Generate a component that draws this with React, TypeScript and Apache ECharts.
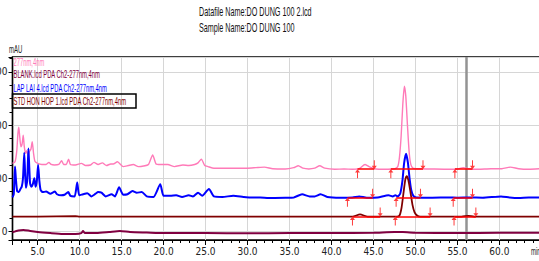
import React, { useEffect, useRef } from "react";
import * as echarts from "echarts";

// ---- texts ----
const titleLines = ["Datafile Name:DO DUNG 100 2.lcd", "Sample Name:DO DUNG 100"];
const legendLabels = [
  "277nm,4nm",
  "BLANK.lcd PDA Ch2-277nm,4nm",
  "LAP LAI 4.lcd PDA Ch2-277nm,4nm",
  "STD HON HOP 1.lcd PDA Ch2-277nm,4nm",
];
const yAxisUnit = "mAU";
const xAxisUnit = "min";

// ---- traces: [time (min), signal (mAU)] ----
const sampleTrace: [number, number][] = [
  [2.0, 128], [2.3, 131], [2.5, 150], [2.65, 185], [2.75, 196], [2.85, 180], [3.0, 159], [3.15, 165],
  [3.28, 181], [3.4, 160], [3.56, 147], [3.7, 152], [3.85, 142], [4.0, 150], [4.2, 155], [4.35, 169],
  [4.5, 148], [4.67, 132], [5.0, 128], [5.5, 126], [6.0, 126], [6.34, 130], [6.6, 126], [7.0, 125],
  [7.5, 126], [7.85, 133], [8.1, 126], [8.4, 126], [8.68, 136], [8.9, 126], [9.5, 125], [10.2, 128],
  [10.7, 124], [11.3, 125], [11.7, 130], [12.2, 126], [12.7, 129], [13.2, 124], [13.7, 127], [14.0, 127],
  [14.5, 131], [15.2, 122], [15.8, 124], [16.4, 126], [17.0, 122], [17.6, 123], [18.2, 126], [18.7, 144],
  [19.1, 127], [19.6, 126], [20.5, 126], [21.3, 122], [22.3, 125], [23.0, 124], [23.7, 126], [24.1, 129],
  [24.5, 136], [24.9, 124], [25.3, 122], [26.0, 119], [27.0, 119], [28.0, 119], [29.0, 119], [30.0, 119],
  [31.0, 120], [32.0, 121], [33.0, 118], [34.5, 117.5], [35.5, 120], [36.05, 123.7], [36.6, 119],
  [37.3, 117.5], [38.0, 119], [38.6, 123.5], [39.2, 119], [40.4, 117], [41.5, 117.5], [42.5, 117],
  [43.3, 118], [44.0, 126], [44.6, 121], [45.3, 117.5], [46.3, 117], [47.3, 117.5], [47.6, 118],
  [47.9, 122], [48.1, 140], [48.3, 180], [48.5, 240], [48.68, 273], [48.85, 255], [49.05, 200],
  [49.25, 150], [49.45, 126], [49.7, 119], [50.5, 118], [52.0, 117.5], [54.0, 117], [55.0, 117.5],
  [55.7, 120], [56.3, 118], [57.5, 117], [59.0, 118], [60.3, 118], [61.3, 121], [62.3, 118],
  [63.5, 117], [64.9, 118],
];

const repeatTrace: [number, number][] = [
  [2.0, 64], [2.15, 70], [2.3, 122], [2.4, 100], [2.55, 76], [2.75, 74], [2.95, 80], [3.1, 84],
  [3.25, 100], [3.4, 148], [3.5, 110], [3.6, 82], [3.75, 95], [3.9, 156], [4.0, 120], [4.1, 90],
  [4.25, 84], [4.4, 88], [4.6, 100], [4.75, 84], [4.9, 95], [5.05, 125], [5.2, 95], [5.35, 78],
  [5.6, 74], [6.0, 75], [6.5, 71], [7.05, 75], [7.3, 70], [7.8, 68], [8.2, 69], [8.64, 74], [8.9, 67],
  [9.4, 66], [9.71, 92], [9.95, 68], [10.4, 70], [10.9, 72], [11.4, 66], [11.9, 71], [12.2, 74],
  [12.6, 73], [13.1, 66], [13.8, 70], [14.2, 66], [14.7, 83], [15.2, 69], [15.7, 70], [16.3, 76],
  [16.8, 73], [17.4, 74], [18.0, 66], [18.8, 65], [19.6, 89], [20.0, 67], [20.8, 67], [21.5, 68],
  [22.2, 65], [23.0, 68], [23.5, 66], [24.1, 73], [24.6, 67], [25.4, 80], [26.0, 66], [27.0, 65],
  [28.3, 67], [29.5, 65], [30.3, 64], [31.5, 64], [32.5, 63], [34.5, 63.5], [35.5, 64], [36.5, 69.8],
  [37.4, 66], [38.0, 66], [38.7, 70], [39.5, 65], [41.0, 63.5], [42.5, 64], [43.3, 66], [44.2, 63.5],
  [45.5, 64], [46.8, 68], [47.3, 66], [47.6, 68], [47.9, 66], [48.2, 72], [48.45, 95], [48.65, 128],
  [48.88, 146], [49.1, 130], [49.3, 100], [49.5, 78], [49.75, 67], [50.1, 64], [52.0, 63.5],
  [54.0, 64], [55.0, 63.5], [56.5, 64], [58.0, 63.5], [60.2, 66], [61.2, 64], [62.3, 63], [63.5, 64],
  [64.9, 64],
];

const standardTrace: [number, number][] = [
  [2.0, 28], [5.0, 28], [9.5, 29], [10.0, 28], [20.0, 28], [30.0, 28], [40.0, 28], [42.5, 28],
  [43.4, 32], [44.3, 28], [47.8, 28], [48.1, 30], [48.35, 45], [48.6, 75], [48.8, 98], [48.97, 104],
  [49.15, 97], [49.4, 75], [49.65, 50], [49.9, 36], [50.2, 30], [50.6, 28], [55.5, 28], [56.3, 29.5],
  [57.0, 28], [64.9, 28],
];

const blankTrace: [number, number][] = [
  [2.0, -1.5], [2.7, 2], [3.3, 3], [4.0, 1.5], [5.0, -1], [6.5, -3], [8.0, -4.5], [9.5, -4.5],
  [10.2, -3], [10.4, 1], [10.6, -3], [12.0, -3], [13.5, -1], [14.8, 1], [16.0, -1], [18.0, -2],
  [20.0, -3], [25.0, -3], [30.0, -3.5], [35.0, -3], [40.0, -3], [45.0, -2.5], [47.5, -1], [48.5, -1],
  [50.0, -2.5], [55.0, -3], [60.0, -2.5], [64.9, -2.5],
];

// ---- peak integration marks: [start, end] in min, and baseline level (mAU) ----
const sampleMarks: [number, number][] = [[43.1, 45.1], [47.07, 50.9], [54.7, 56.8]];
const repeatMarks: [number, number][] = [[41.9, 44.9], [47.7, 50.6], [54.5, 56.8]];
const standardMarks: [number, number][] = [[42.5, 45.8], [47.6, 51.75], [54.6, 57.2]];
const sampleBase = 117;
const repeatBase = 63.5;
const standardBase = 28;
const cursorTime = 56.0;

const colors = { sample: "#ff7ab8", blank: "#800040", repeat: "#0000ff", standard: "#800000" };
const narrow = "'Liberation Sans Narrow', 'Arial Narrow', 'DejaVu Sans Condensed', sans-serif";
const arrowPath = "path://M5,0 L10,6 L6,6 L6,16 L4,16 L4,6 L0,6 Z";

function marks(ranges: [number, number][], base: number) {
  return {
    markLine: {
      silent: true,
      symbol: ["none", "none"],
      label: { show: false },
      lineStyle: { color: "#ff0000", width: 1.5, type: "solid" },
      data: ranges.map((r) => [{ coord: [r[0], base] }, { coord: [r[1], base] }]),
      z: 10,
    },
    markPoint: {
      silent: true,
      label: { show: false },
      itemStyle: { color: "#ff3c3c" },
      data: ranges.flatMap((r) => [
        { coord: [r[0], base], symbol: arrowPath, symbolSize: [5, 9], symbolOffset: [0, "50%"] },
        { coord: [r[1], base], symbol: arrowPath, symbolSize: [5, 9], symbolOffset: [0, "-50%"], symbolRotate: 180 },
      ]),
      z: 10,
    },
  };
}

export default function App() {
  const ref = useRef<HTMLDivElement>(null);
  useEffect(() => {
    if (!ref.current) return;
    const chart = echarts.init(ref.current, undefined, { renderer: "svg" });
    const lineSeries = (name: string, data: [number, number][], color: string, width: number, z: number) => ({
      type: "line",
      name,
      data,
      showSymbol: false,
      symbol: "none",
      smooth: 0.2,
      silent: true,
      z,
      lineStyle: { color, width },
      itemStyle: { color },
      emphasis: { disabled: true },
    });
    const textEl = (text: string, x: number, y: number, color: string, size: number, sx: number) => ({
      type: "text",
      x,
      y,
      scaleX: sx,
      silent: true,
      z: 100,
      style: {
        text,
        fill: color,
        font: `${size}px 'Liberation Sans', Arial, sans-serif`,
        textAlign: "left",
        textVerticalAlign: "middle",
      },
    });
    chart.setOption({
      animation: false,
      backgroundColor: "#ffffff",
      grid: {
        left: 12.5,
        right: -1.5,
        top: 57,
        bottom: 21,
        show: true,
        borderColor: "#000",
        borderWidth: 1.5,
        containLabel: false,
        outerBoundsMode: "none",
      },
      xAxis: {
        type: "value",
        min: 2,
        max: 64.9,
        splitNumber: 12,
        axisLine: { show: true, onZero: false, lineStyle: { color: "#000", width: 1.2 } },
        axisTick: { show: true, length: 5, lineStyle: { color: "#000" } },
        minorTick: { show: true, splitNumber: 5, length: 3, lineStyle: { color: "#000" } },
        axisLabel: {
          showMinLabel: false,
          showMaxLabel: false,
          formatter: (v: number) => v.toFixed(1),
          fontSize: 10,
          fontFamily: narrow,
          color: "#222",
          margin: 6,
        },
        splitLine: { show: true, lineStyle: { color: "#d6d6d6", width: 1 } },
      },
      yAxis: {
        type: "value",
        min: -16,
        max: 328,
        splitNumber: 4,
        axisLine: { show: true, onZero: false, lineStyle: { color: "#000", width: 1.2 } },
        axisTick: { show: true, length: 4, lineStyle: { color: "#000" } },
        minorTick: { show: true, splitNumber: 4, length: 3, lineStyle: { color: "#000" } },
        axisLabel: {
          showMinLabel: false,
          showMaxLabel: false,
          fontSize: 10,
          fontFamily: narrow,
          color: "#222",
          margin: 5,
        },
        splitLine: { show: true, lineStyle: { color: "#d6d6d6", width: 1 } },
      },
      series: [
        {
          ...lineSeries(legendLabels[1], blankTrace, colors.blank, 2, 2),
          markLine: {
            silent: true,
            symbol: ["none", "none"],
            label: { show: false },
            lineStyle: { color: "#939393", width: 2.5, type: "solid" },
            data: [{ xAxis: cursorTime }],
            z: 1,
          },
        },
        { ...lineSeries(legendLabels[0], sampleTrace, colors.sample, 1.4, 3), ...marks(sampleMarks, sampleBase) },
        { ...lineSeries(legendLabels[2], repeatTrace, colors.repeat, 2, 4), ...marks(repeatMarks, repeatBase) },
        { ...lineSeries(legendLabels[3], standardTrace, colors.standard, 1.8, 5), ...marks(standardMarks, standardBase) },
      ],
      graphic: [
        textEl(titleLines[0], 199, 12, "#111", 12, 0.6),
        textEl(titleLines[1], 199, 28, "#111", 12, 0.6),
        textEl(yAxisUnit, 9, 50, "#222", 10, 0.6),
        textEl(xAxisUnit, 531, 252, "#222", 10, 0.6),
        textEl(legendLabels[0], 13.5, 62, colors.sample, 10.5, 0.555),
        textEl(legendLabels[1], 13.5, 74.5, colors.blank, 10.5, 0.555),
        textEl(legendLabels[2], 13.5, 88, colors.repeat, 10.5, 0.555),
        textEl(legendLabels[3], 13.5, 101, colors.standard, 10.5, 0.555),
        {
          type: "rect",
          silent: true,
          z: 100,
          shape: { x: 12.5, y: 94, width: 123.5, height: 14 },
          style: { fill: "none", stroke: "#000", lineWidth: 1.5 },
        },
      ],
    });
    return () => chart.dispose();
  }, []);
  return (
    <div
      ref={ref}
      style={{ position: "fixed", left: 0, top: 0, width: 539, height: 261, background: "#fff" }}
    />
  );
}
